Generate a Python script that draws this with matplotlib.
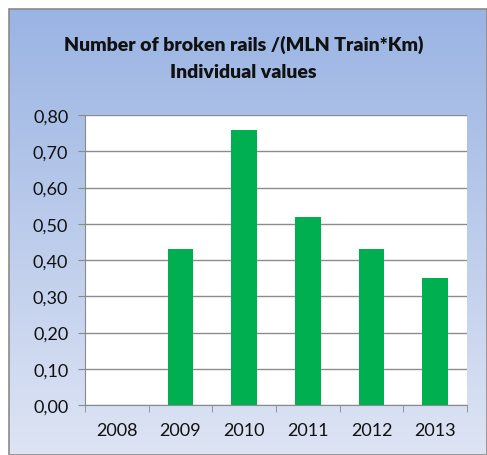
import numpy as np
import matplotlib.pyplot as plt
from matplotlib.patches import Rectangle
from matplotlib.ticker import FixedLocator, FuncFormatter

years = ['2008', '2009', '2010', '2011', '2012', '2013']
broken_rails = [0.0, 0.43, 0.76, 0.52, 0.43, 0.35]

plt.rcParams['font.family'] = ['Lato', 'DejaVu Sans']

fig = plt.figure(figsize=(4.87, 4.56), dpi=100)

# gradient backdrop with thin frame
bg = fig.add_axes([9 / 487, 0, 1 - 9 / 487, 446 / 456], zorder=0)
grad = np.linspace(0, 1, 256).reshape(-1, 1)
top = np.array([0.604, 0.706, 0.890])
bot = np.array([0.870, 0.894, 0.957])
img = top + (bot - top) * grad[..., None]
bg.imshow(img, aspect='auto', extent=[0, 1, 0, 1])
bg.set_xlim(0, 1)
bg.set_ylim(0, 1)
bg.axis('off')
bg.add_patch(Rectangle((0, 0), 1, 1, fill=False, edgecolor='#8a8a8a', lw=1.2,
                       transform=bg.transAxes, clip_on=False))

ax = fig.add_axes([85 / 487, 1 - 406 / 456, (467 - 85) / 487, (406 - 116) / 456], zorder=1)
ax.set_facecolor('white')
x = np.arange(len(years))
ax.bar(x, broken_rails, width=0.4, color='#00b050', zorder=3)

ax.set_xlim(-0.5, len(years) - 0.5)
ax.set_ylim(0, 0.8)
ax.set_yticks(np.arange(0, 0.81, 0.1))
ax.yaxis.set_major_formatter(FuncFormatter(lambda v, p: f'{v:.2f}'.replace('.', ',')))
ax.set_xticks(x)
ax.set_xticklabels(years)
ax.xaxis.set_minor_locator(FixedLocator(np.arange(-0.5, len(years), 1)))
ax.tick_params(axis='x', which='major', length=0, pad=12, labelsize=13, colors='#111111')
ax.tick_params(axis='x', which='minor', length=5, color='#8a8a8a')
ax.tick_params(axis='y', length=5, color='#8a8a8a', labelsize=13, pad=7, labelcolor='#111111')
ax.grid(axis='y', color='#8c8c8c', lw=1.0, zorder=1)
for s in ['top', 'right']:
    ax.spines[s].set_visible(False)
for s in ['left', 'bottom']:
    ax.spines[s].set_color('#8a8a8a')

fig.text(0.5, 1 - 45 / 456, 'Number of broken rails /(MLN Train*Km)', ha='center', va='center',
         fontsize=14, fontweight='heavy', color='#111111')
fig.text(0.5, 1 - 72 / 456, 'Individual values', ha='center', va='center',
         fontsize=14, fontweight='heavy', color='#111111')

fig.savefig('out.png', dpi=100, facecolor='white')
